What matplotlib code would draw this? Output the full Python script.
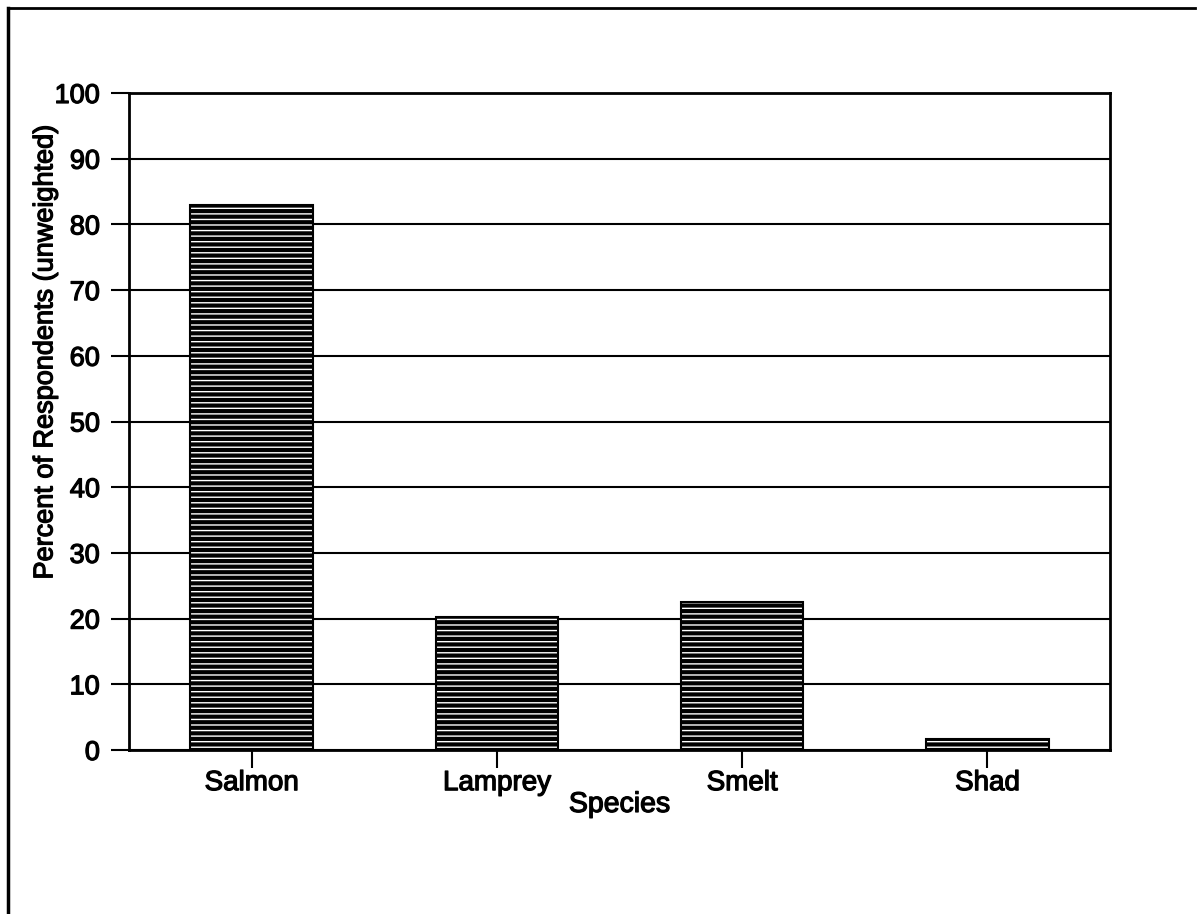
import matplotlib
matplotlib.use("Agg")
import matplotlib.pyplot as plt
from matplotlib.lines import Line2D
import matplotlib.patheffects as pe

species = ["Salmon", "Lamprey", "Smelt", "Shad"]
percent = [82.9, 20.2, 22.6, 1.6]
yticks = [0, 10, 20, 30, 40, 50, 60, 70, 80, 90, 100]

plt.rcParams['font.family'] = ['Liberation Sans', 'DejaVu Sans']
plt.rcParams['hatch.linewidth'] = 1.0

thick = [pe.withStroke(linewidth=0.9, foreground='black')]

fig = plt.figure(figsize=(12.01, 9.14), dpi=100)
ax = fig.add_axes([129/1201, 1-750/914, (1110-129)/1201, (750-93)/914])

x = range(len(species))
ax.bar(x, percent, width=0.5, color='black', edgecolor='white', hatch='---', linewidth=0, zorder=3)
ax.bar(x, percent, width=0.5, fill=False, edgecolor='black', linewidth=1.5, zorder=4)

ax.set_xlim(-0.5, len(species) - 0.5)
ax.set_ylim(0, 100)
ax.set_yticks(yticks)
ax.set_xticks(list(x))
ax.set_xticklabels(species)
ax.yaxis.grid(True, color='black', linewidth=1.5, zorder=0)
ax.set_axisbelow(True)
for s in ax.spines.values():
    s.set_linewidth(2)
ax.tick_params(axis='y', direction='out', length=13, width=1.5, pad=8, labelsize=19.5)
ax.tick_params(axis='x', direction='out', length=13, width=1.5, pad=1.5, labelsize=20)
ax.set_xlabel("Species", fontsize=20.5, labelpad=-3, path_effects=thick)
ax.set_ylabel("Percent of Respondents (unweighted)", fontsize=19.5, path_effects=thick)
ax.yaxis.set_label_coords(-0.072, 0.606)
for lab in ax.get_xticklabels() + ax.get_yticklabels():
    lab.set_path_effects(thick)

# outer frame (left and top edges)
fig.add_artist(Line2D([8/1201, 8/1201], [0, 1-8/914], transform=fig.transFigure, color='black', linewidth=2.5))
fig.add_artist(Line2D([8/1201, 1195/1201], [1-8/914, 1-8/914], transform=fig.transFigure, color='black', linewidth=2))

fig.savefig("out.png", dpi=100)
